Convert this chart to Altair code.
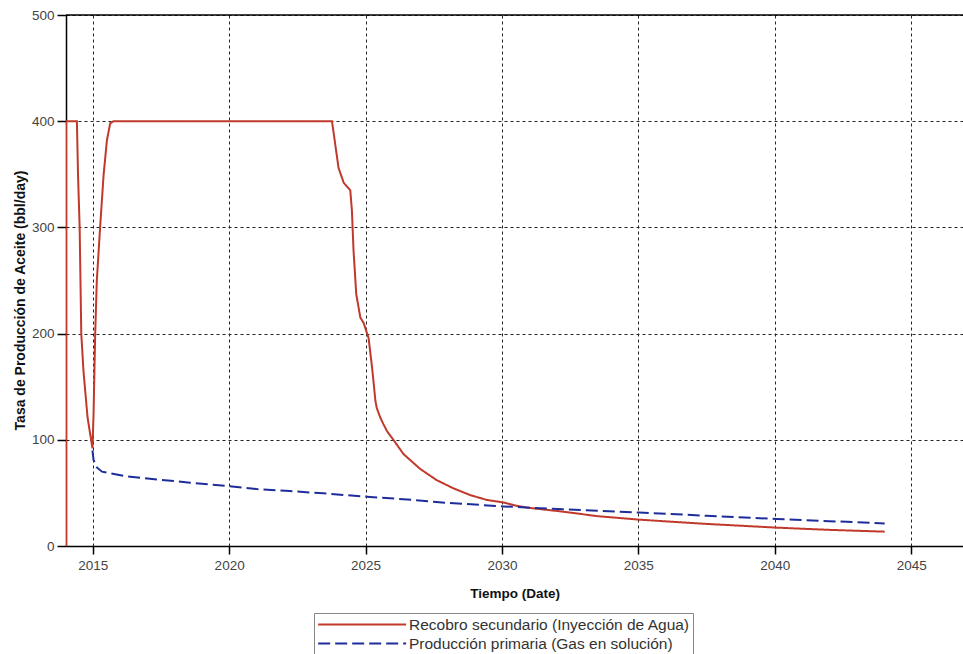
import altair as alt
import pandas as pd

# ---- data ----
red_name = "Recobro secundario (Inyección de Agua)"
blue_name = "Producción primaria (Gas en solución)"

red_years = [2014.02, 2014.02, 2014.42, 2014.46, 2014.52, 2014.58, 2014.66, 2014.81, 2014.99,
             2015.03, 2015.09, 2015.15, 2015.27, 2015.40, 2015.52, 2015.64, 2015.76,
             2023.77, 2023.89, 2024.01, 2024.20, 2024.44, 2024.50, 2024.56, 2024.66,
             2024.81, 2024.93, 2025.11, 2025.24, 2025.36, 2025.41, 2025.54, 2025.65,
             2025.79, 2026.02, 2026.39, 2027.0, 2027.61, 2028.22, 2028.83, 2029.44,
             2030.05, 2030.54, 2031.03, 2032.25, 2033.47,
             2035.03, 2037.5, 2040.06, 2042.0, 2044.03]
red_vals = [0, 400, 400, 350, 300, 200, 165, 121, 92,
            124, 200, 250, 300, 350, 382, 398, 400,
            400, 378, 356, 342, 335, 316, 278, 237,
            215, 210, 196, 168, 137, 130, 121, 115,
            108, 100, 86.6, 72.6, 62, 54.3, 48, 43.4,
            41, 37.8, 35.8, 32.3, 28.2,
            24.8, 20.8, 17.3, 15.2, 13.5]

blue_years = [2014.99, 2015.03, 2015.15, 2015.34, 2016.13, 2017.35, 2018.57, 2019.97,
              2021.01, 2022.23, 2023.45, 2025.04, 2025.9, 2026.75, 2027.97, 2030.05,
              2032.25, 2035.03, 2037.5, 2040.06, 2042.0, 2044.03]
blue_vals = [90, 81, 74, 70, 66, 62.7, 59.6, 56.4,
             53.6, 51.7, 49.6, 46.4, 44.9, 43.3, 40.7, 37.3,
             34.5, 31.5, 28.5, 25.4, 23.4, 21.3]

x_ticks = [2015, 2020, 2025, 2030, 2035, 2040, 2045]
y_ticks = [0, 100, 200, 300, 400, 500]

rows = []
for i, (x, y) in enumerate(zip(red_years, red_vals)):
    rows.append({"year": x, "rate": y, "serie": red_name, "i": i})
for i, (x, y) in enumerate(zip(blue_years, blue_vals)):
    rows.append({"year": x, "rate": y, "serie": blue_name, "i": i})
df = pd.DataFrame(rows)

FONT = "Liberation Sans"
legend = alt.Legend(
    title=None, orient="none", legendX=248, legendY=598,
    symbolType="M-1,0H11", symbolSize=215, symbolStrokeWidth=2,
    labelFont=FONT, labelFontSize=15.5, labelColor="#333", labelLimit=500,
    labelOffset=75, rowPadding=2, padding=3,
    strokeColor="#888", fillColor="white", cornerRadius=0,
)

xscale = alt.Scale(domain=[2014.02, 2046.9], nice=False, zero=False)
yscale = alt.Scale(domain=[0, 500], nice=False)

lines = alt.Chart(df).mark_line(strokeWidth=2, clip=True).encode(
    x=alt.X("year:Q", scale=xscale,
            axis=alt.Axis(title="Tiempo (Date)", values=x_ticks, format="d",
                          grid=True, gridDash=[3, 3], gridColor="#222",
                          tickSize=8, labelPadding=4, titlePadding=15)),
    y=alt.Y("rate:Q", scale=yscale,
            axis=alt.Axis(title="Tasa de Producción de Aceite (bbl/day)", values=y_ticks,
                          grid=True, gridDash=[3, 3], gridColor="#222",
                          tickSize=9, labelPadding=3, titlePadding=4, titleY=285)),
    color=alt.Color("serie:N", legend=legend,
                    scale=alt.Scale(domain=[red_name, blue_name], range=["#c0392b", "#1e2d9a"])),
    strokeDash=alt.StrokeDash("serie:N", legend=legend,
                              scale=alt.Scale(domain=[red_name, blue_name], range=[[1, 0], [12, 5]])),
    order=alt.Order("i:Q"),
)

top_line = alt.Chart(pd.DataFrame({"v": [500]})).mark_rule(color="black", strokeWidth=1.5).encode(
    y=alt.Y("v:Q", scale=yscale)
)

chart = alt.layer(lines, top_line).properties(
    width=897, height=531,
    autosize=alt.AutoSizeParams(type="none"),
    padding={"left": 66, "top": 15, "right": 0, "bottom": 108},
    background="white",
).configure_view(stroke=None).configure_axis(
    labelFont=FONT, labelFontSize=13.5, labelColor="#444",
    titleFont=FONT, titleFontSize=13.5, titleFontWeight="bold", titleColor="#111",
    domainColor="black", domainWidth=1.5, tickColor="black", tickWidth=1.5,
).configure_axisY(titleFontSize=14)

chart.save("out.html", embed_options={"renderer": "svg", "actions": False})
